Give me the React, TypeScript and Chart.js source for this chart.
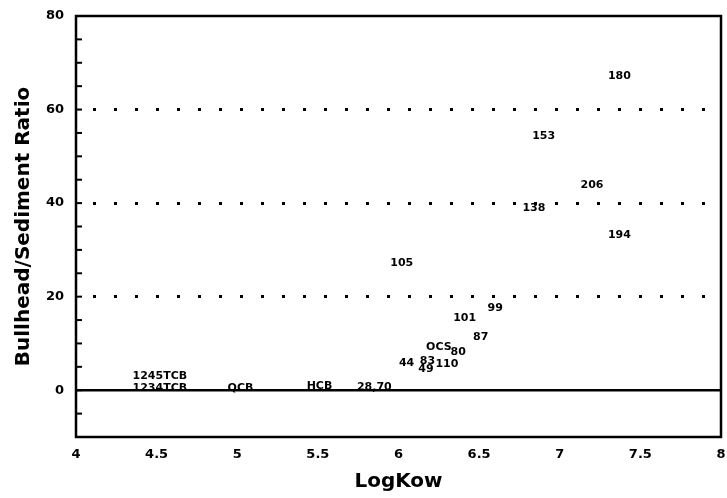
import { useEffect, useRef } from 'react';
import { Chart, registerables } from 'chart.js';

Chart.register(...registerables);

// compound / congener labels
const compounds = [
  '180', '153', '206', '138', '194', '105', '101', '99', '87', 'OCS',
  '80', '44', '83', '110', '49', '28,70', 'HCB', 'QCB', '1245TCB', '1234TCB',
];
const logKow = [
  7.37, 6.9, 7.2, 6.84, 7.37, 6.02, 6.41, 6.6, 6.51, 6.25,
  6.37, 6.05, 6.18, 6.3, 6.17, 5.85, 5.51, 5.02, 4.52, 4.52,
];
const ratio = [
  67.2, 54.3, 43.9, 39.0, 33.2, 27.2, 15.4, 17.6, 11.4, 9.2,
  8.2, 5.8, 6.2, 5.6, 4.5, 0.7, 0.9, 0.5, 3.0, 0.5,
];

const zeroLineX = [4, 8];
const zeroLineY = [0, 0];
const dottedAt = [20, 40, 60];

const FONT = 'DejaVu Sans';

const labelPlugin = {
  id: 'pointLabels',
  afterDatasetsDraw(chart: any) {
    const { ctx } = chart;
    const meta = chart.getDatasetMeta(1);
    ctx.save();
    ctx.fillStyle = '#000';
    ctx.font = `bold 11px "${FONT}"`;
    ctx.textAlign = 'center';
    ctx.textBaseline = 'middle';
    meta.data.forEach((pt: any, i: number) => {
      ctx.fillText(compounds[i], pt.x, pt.y);
    });
    ctx.restore();
  },
  afterDraw(chart: any) {
    const { ctx, chartArea } = chart;
    const { left, right, top, bottom } = chartArea;
    const y = chart.scales.y;
    ctx.save();
    ctx.strokeStyle = '#000';
    // inward minor ticks on the left axis
    ctx.lineWidth = 2;
    y.ticks.forEach((t: any) => {
      const py = y.getPixelForValue(t.value);
      ctx.beginPath();
      ctx.moveTo(left, py);
      ctx.lineTo(left + 6, py);
      ctx.stroke();
    });
    // frame
    ctx.lineWidth = 2.5;
    ctx.strokeRect(left, top, right - left, bottom - top);
    ctx.restore();
  },
};

export default function App() {
  const canvasRef = useRef<HTMLCanvasElement>(null);

  useEffect(() => {
    document.body.style.margin = '0';
    if (!canvasRef.current) return;

    const chart = new Chart(canvasRef.current, {
      type: 'scatter',
      data: {
        datasets: [
          {
            type: 'line',
            data: zeroLineX.map((x, i) => ({ x, y: zeroLineY[i] })),
            borderColor: '#000',
            borderWidth: 2.5,
            pointRadius: 0,
          },
          {
            data: logKow.map((x, i) => ({ x, y: ratio[i] })),
            pointRadius: 0,
            backgroundColor: '#000',
          },
        ],
      },
      options: {
        responsive: true,
        maintainAspectRatio: false,
        animation: false,
        layout: { padding: { left: 0, right: 6, top: 16, bottom: 0 } },
        plugins: { legend: { display: false }, tooltip: { enabled: false } },
        scales: {
          x: {
            type: 'linear',
            min: 4,
            max: 8,
            afterFit: (s: any) => {
              s.height = 61;
              s.paddingLeft = 0;
              s.paddingRight = 0;
            },
            grid: { display: false, drawTicks: false },
            border: { display: false },
            ticks: {
              stepSize: 0.5,
              padding: 10,
              color: '#000',
              font: { family: FONT, size: 13, weight: 'bold' },
              callback: (v: any) => String(Number(v)),
            },
            title: {
              display: true,
              text: 'LogKow',
              color: '#000',
              padding: { top: 0, bottom: 4 },
              font: { family: FONT, size: 20, weight: 'bold' },
            },
          },
          y: {
            type: 'linear',
            min: -10,
            max: 80,
            afterFit: (s: any) => {
              s.width = 76;
              s.paddingTop = 0;
              s.paddingBottom = 0;
            },
            grid: {
              drawTicks: false,
              lineWidth: 3,
              color: (c: any) => (dottedAt.includes(c.tick?.value) ? '#000' : 'rgba(0,0,0,0)'),
            },
            border: { display: false, dash: [3, 18], dashOffset: 4 },
            ticks: {
              stepSize: 5,
              padding: 12,
              color: '#000',
              font: { family: FONT, size: 13, weight: 'bold' },
              callback: (v: any) => (Number(v) % 20 === 0 ? String(v) : ''),
            },
            title: {
              display: true,
              text: 'Bullhead/Sediment Ratio',
              color: '#000',
              padding: { top: 12, bottom: 0 },
              font: { family: FONT, size: 20, weight: 'bold' },
            },
          },
        },
      },
      plugins: [labelPlugin],
    });

    return () => chart.destroy();
  }, []);

  return (
    <div style={{ width: 727, height: 498, position: 'relative', background: '#fff' }}>
      <canvas ref={canvasRef} />
    </div>
  );
}
